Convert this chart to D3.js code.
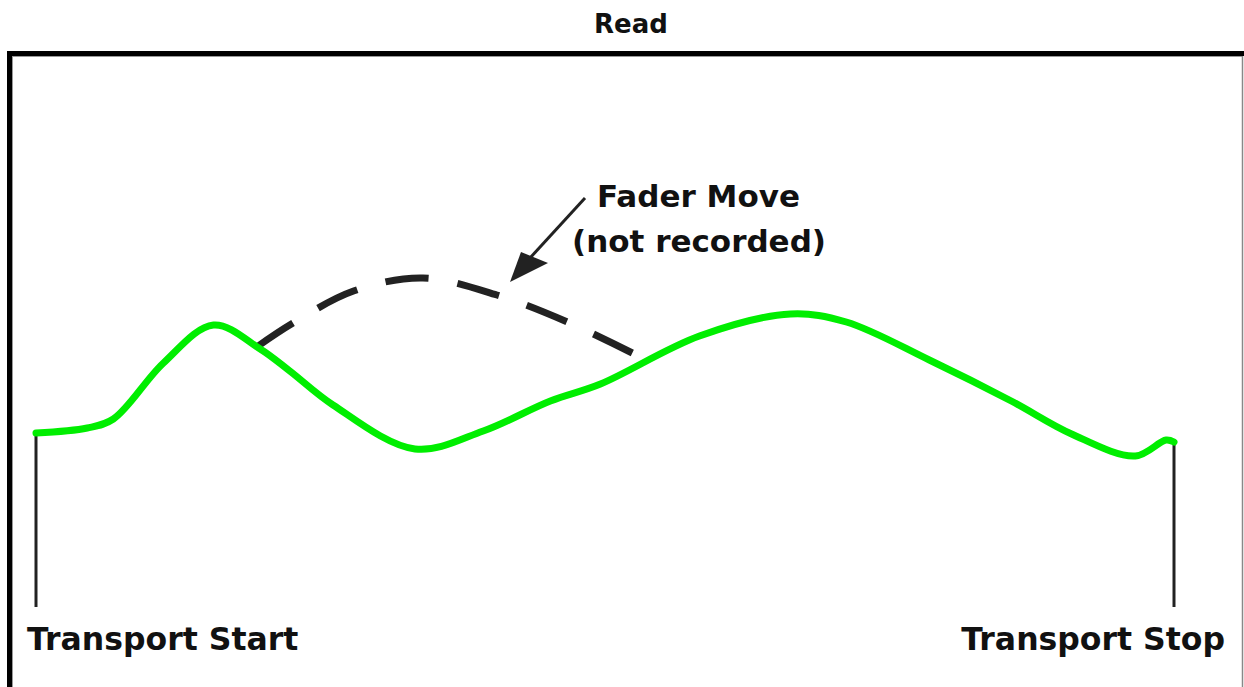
<!DOCTYPE html>
<html>
<head>
<meta charset="utf-8">
<script src="https://cdn.jsdelivr.net/npm/d3@7/dist/d3.min.js"></script>
<style>
  html, body { margin: 0; padding: 0; background: #fff; }
  svg { display: block; }
  text { font-family: "DejaVu Sans", Verdana, sans-serif; font-weight: bold; fill: #111; }
</style>
</head>
<body>
<script>
// ---- data (time 0..100, fader level 0..100) ----
const readTime   = [0, 4.5, 6.8, 11.2, 15.6, 19.7, 22.3, 26.1, 33.3, 39.3, 45.2, 49.6, 58.3, 66.3, 71.2, 78.5, 85.7, 91.0, 96.6, 99.3, 100];
const readLevel  = [43.5, 44.75, 47, 61, 70.5, 64.5, 59, 50.5, 39.5, 44, 51.5, 55.75, 67.75, 73.25, 71.25, 61.75, 51.5, 43.25, 37.75, 41.75, 41.25];
const faderTime  = [19.4, 22.6, 27.9, 34.0, 40.5, 46.7, 52.4];
const faderLevel = [65, 71, 79, 82.25, 78, 71.25, 63.5];
const transportLabels = ["Transport Start", "Transport Stop"];
const transportTimes  = [0, 100];
const title = "Read";
const noteLines = ["Fader Move", "(not recorded)"];

const W = 1244, H = 687;
const x = d3.scaleLinear().domain([0, 100]).range([36, 1174]);
const y = d3.scaleLinear().domain([0, 100]).range([607, 207]);

const svg = d3.select("body").append("svg").attr("width", W).attr("height", H);

// frame
svg.append("line").attr("x1", 9.5).attr("x2", 9.5).attr("y1", 51).attr("y2", H)
  .attr("stroke", "#000").attr("stroke-width", 5);
svg.append("line").attr("x1", 7).attr("x2", W).attr("y1", 53.5).attr("y2", 53.5)
  .attr("stroke", "#000").attr("stroke-width", 5);
svg.append("line").attr("x1", 12.5).attr("x2", 12.5).attr("y1", 56).attr("y2", H)
  .attr("stroke", "#999").attr("stroke-width", 1);
svg.append("line").attr("x1", 12).attr("x2", 1242).attr("y1", 56.5).attr("y2", 56.5)
  .attr("stroke", "#999").attr("stroke-width", 1);
svg.append("line").attr("x1", 1242.5).attr("x2", 1242.5).attr("y1", 56).attr("y2", H)
  .attr("stroke", "#888").attr("stroke-width", 1.5);

// title
svg.append("text").attr("x", 631).attr("y", 33).attr("text-anchor", "middle")
  .style("font-size", "26px").text(title);

const readData = readTime.map((t, i) => ({ t, v: readLevel[i] }));
const faderData = faderTime.map((t, i) => ({ t, v: faderLevel[i] }));

const line = d3.line().x(d => x(d.t)).y(d => y(d.v)).curve(d3.curveCatmullRom.alpha(0.5));

// transport markers
transportTimes.forEach((t, i) => {
  const v = i === 0 ? readLevel[0] : readLevel[readLevel.length - 1];
  svg.append("line").attr("x1", x(t)).attr("x2", x(t)).attr("y1", y(v)).attr("y2", y(0))
    .attr("stroke", "#222").attr("stroke-width", 3);
});

// fader move (dashed), 6 dashes / 5 gaps spread over the path
const fader = svg.append("path").datum(faderData).attr("d", line)
  .attr("fill", "none").attr("stroke", "#222").attr("stroke-width", 7);
const L = fader.node().getTotalLength();
const u = L / (6 * 40 + 5 * 27);
fader.attr("stroke-dasharray", `${40 * u},${27 * u}`);

// read automation curve
svg.append("path").datum(readData).attr("d", line)
  .attr("fill", "none").attr("stroke", "#00ee00").attr("stroke-width", 7)
  .attr("stroke-linecap", "round").attr("stroke-linejoin", "round");

// transport labels
svg.append("text").attr("x", 27).attr("y", 650).style("font-size", "31.5px").text(transportLabels[0]);
svg.append("text").attr("x", 1225).attr("y", 650).attr("text-anchor", "end").style("font-size", "31.5px").text(transportLabels[1]);

// annotation
svg.append("text").attr("x", 597).attr("y", 207).style("font-size", "31px").text(noteLines[0]);
svg.append("text").attr("x", 572).attr("y", 252).style("font-size", "31px").text(noteLines[1]);

// arrow
svg.append("line").attr("x1", 585).attr("y1", 198).attr("x2", 530).attr("y2", 258)
  .attr("stroke", "#222").attr("stroke-width", 3);
svg.append("path").attr("d", d3.line()([[510, 282], [521, 252], [548, 263]]))
  .attr("fill", "#222");
</script>
</body>
</html>
